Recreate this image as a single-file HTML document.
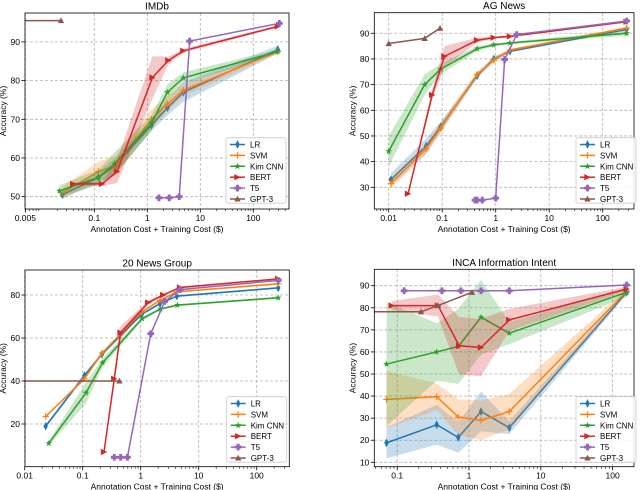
<!DOCTYPE html>
<html><head><meta charset="utf-8">
<style>
html,body{margin:0;padding:0;background:#fff;}
svg{display:block;font-family:"Liberation Sans","DejaVu Sans",sans-serif;}
</style></head>
<body>
<svg id="chart" width="640" height="490" viewBox="0 0 640 490" xmlns="http://www.w3.org/2000/svg"></svg>
<script>
// ---- data ----
const seriesNames = ["LR","SVM","Kim CNN","BERT","T5","GPT-3"];
const panelTitles = ["IMDb","AG News","20 News Group","INCA Information Intent"];

// IMDb
const imdbX_LR = [0.025,0.12,0.25,1.2,2.4,4.8,290];
const imdbY_LR = [50.5,55,58,68.5,73,77,88];
const imdbE_LR = [1,1.5,2,1.5,2,2.5,1];
const imdbX_SVM = [0.025,0.12,0.25,1.2,2.4,4.8,290];
const imdbY_SVM = [51,56.5,58,70,74,77.5,87.5];
const imdbE_SVM = [1.5,2.5,2.5,2.5,2,1.5,0.5];
const imdbX_CNN = [0.022,0.12,0.24,1.2,2.4,4.8,290];
const imdbY_CNN = [51.5,55,58.5,69,77,80.7,87.5];
const imdbE_CNN = [1.5,2,3,2,2,1.5,0.5];
const imdbX_BERT = [0.04,0.14,0.27,1.25,2.5,4.8,290];
const imdbY_BERT = [53.3,53.3,56.5,80.8,85.2,87.7,94];
const imdbE_BERT = [0.5,0.5,3,5.5,1,0.5,0.3];
const imdbX_T5 = [1.66,2.6,4.0,6.3,310];
const imdbY_T5 = [49.7,49.7,50,90.2,94.8];
const imdbX_GPT = [0.001,0.0235];
const imdbY_GPT = [95.5,95.5];

// AG News
const agX_LR = [0.011,0.05,0.093,0.45,0.92,1.85,280];
const agY_LR = [33,46,53.5,73.5,80,83,91.5];
const agE_LR = [2.5,3,2,1,1,0.5,0.5];
const agX_SVM = [0.011,0.05,0.093,0.45,0.92,1.85,280];
const agY_SVM = [31.5,45,53,74,79.5,83.5,92];
const agE_SVM = [2,2,2,1,1,0.5,0.5];
const agX_CNN = [0.01,0.047,0.093,0.45,0.92,1.85,280];
const agY_CNN = [44,70,76,84,85.5,86.2,90];
const agE_CNN = [6,4,2,1,0.5,0.5,1];
const agX_BERT = [0.023,0.065,0.11,0.45,0.92,1.85,280];
const agY_BERT = [27.5,66,81,87.3,88.3,88.8,94.5];
const agE_BERT = [0.5,2,4,1,0.5,0.3,0.3];
const agX_T5 = [0.41,0.45,0.56,1,1.47,2.47,280];
const agY_T5 = [25,25,25,25.8,79.8,89.5,94.8];
const agX_GPT = [0.01,0.047,0.091];
const agY_GPT = [86,88,92];

// 20 News Group
const ngX_LR = [0.023,0.107,0.215,1.04,2.15,4.2,235];
const ngY_LR = [19,42.5,52.5,71,76,79.5,83.3];
const ngE_LR = [1,1,1,0.5,0.5,0.5,0.5];
const ngX_SVM = [0.023,0.107,0.215,1.04,2.15,4.2,235];
const ngY_SVM = [23.5,41,53,72,77.5,81.5,85.2];
const ngE_SVM = [0.5,0.5,0.5,0.5,0.5,0.5,0.5];
const ngX_CNN = [0.026,0.114,0.22,1.06,2.2,4.3,235];
const ngY_CNN = [11,34.5,48.5,69,73.5,75.3,78.7];
const ngE_CNN = [1,5,2,1,0.5,0.5,0.5];
const ngX_BERT = [0.233,0.35,0.45,1.35,2.45,4.77,235];
const ngY_BERT = [7,41,62.5,76.5,80,83.5,87.5];
const ngE_BERT = [0.5,3,3,1,0.5,0.5,0.3];
const ngX_T5 = [0.35,0.45,0.59,1.49,2.6,4.77,235];
const ngY_T5 = [4.5,4.5,4.5,62,77,82.5,86.8];
const ngX_GPT = [0.001,0.43];
const ngY_GPT = [40,40];

// INCA
const incaX_LR = [0.071,0.355,0.71,1.47,3.64,157];
const incaY_LR = [18.8,27,21.3,33,25.7,87];
const incaE_LR = [7,9,7,9,3,1];
const incaX_SVM = [0.071,0.355,0.71,1.47,3.64,157];
const incaY_SVM = [38.5,39.7,30.5,29,33,87.5];
const incaE_SVM = [13,6,8,9,8,1];
const incaX_CNN = [0.071,0.355,0.71,1.47,3.64,157];
const incaY_CNN = [54.5,60,62.5,75.7,68.5,87];
const incaE_CNN = [28,13,17,17,5,2];
const incaX_BERT = [0.084,0.37,0.73,1.47,3.64,157];
const incaY_BERT = [81,81,62.8,62,74.5,88.5];
const incaE_BERT = [2,5,13,13,5,1];
const incaX_T5 = [0.125,0.42,0.77,1.47,3.64,157];
const incaY_T5 = [87.7,87.7,87.7,87.7,87.7,90.3];
const incaX_GPT = [0.01,0.215,0.37,1.1];
const incaY_GPT = [78.2,78.2,81,87];

// ticks
const xTicks = [[0.005,0.1,1,10,100],[0.01,0.1,1,10,100],[0.01,0.1,1,10,100],[0.1,1,10,100]];
const xTickLabels = [["0.005","0.1","1","10","100"],["0.01","0.1","1","10","100"],["0.01","0.1","1","10","100"],["0.1","1","10","100"]];
const yTicks = [[50,60,70,80,90],[30,40,50,60,70,80,90],[20,40,60,80],[10,20,30,40,50,60,70,80,90]];

// ---- layout ----
const colors = ["#1f77b4","#ff7f0e","#2ca02c","#d62728","#9467bd","#8c564b"];
const markers = ["d","+","*",">","P","^"];
const panels = [
 {l:25,t:13,r:289,b:209,x1:147.3,dec:53,y0:50,y0p:196.7,k:3.87,leg:[226,137.7]},
 {l:374.3,t:12.7,r:634,b:209,x1:495.7,dec:53.5,y0:30,y0p:187.3,k:2.567,leg:[576,137.7]},
 {l:25,t:270,r:289.3,b:466.7,x1:140.7,dec:58,y0:20,y0p:424,k:2.15,leg:[226.7,396.7]},
 {l:374.3,t:269.3,r:634,b:466.7,x1:469,dec:71.8,y0:10,y0p:462.3,k:2.2075,leg:[576,396.7]}
];
const data = [
 [[imdbX_LR,imdbY_LR,imdbE_LR],[imdbX_SVM,imdbY_SVM,imdbE_SVM],[imdbX_CNN,imdbY_CNN,imdbE_CNN],[imdbX_BERT,imdbY_BERT,imdbE_BERT],[imdbX_T5,imdbY_T5,null],[imdbX_GPT,imdbY_GPT,null]],
 [[agX_LR,agY_LR,agE_LR],[agX_SVM,agY_SVM,agE_SVM],[agX_CNN,agY_CNN,agE_CNN],[agX_BERT,agY_BERT,agE_BERT],[agX_T5,agY_T5,null],[agX_GPT,agY_GPT,null]],
 [[ngX_LR,ngY_LR,ngE_LR],[ngX_SVM,ngY_SVM,ngE_SVM],[ngX_CNN,ngY_CNN,ngE_CNN],[ngX_BERT,ngY_BERT,ngE_BERT],[ngX_T5,ngY_T5,null],[ngX_GPT,ngY_GPT,null]],
 [[incaX_LR,incaY_LR,incaE_LR],[incaX_SVM,incaY_SVM,incaE_SVM],[incaX_CNN,incaY_CNN,incaE_CNN],[incaX_BERT,incaY_BERT,incaE_BERT],[incaX_T5,incaY_T5,null],[incaX_GPT,incaY_GPT,null]]
];

const NS="http://www.w3.org/2000/svg";
const svg=document.getElementById('chart');
function mk(tag,attrs,parent){const e=document.createElementNS(NS,tag);for(const k in attrs)e.setAttribute(k,attrs[k]);(parent||svg).appendChild(e);return e;}

function marker(g,type,x,y,c){
  let e;
  const s=3.2;
  if(type==="d"){e=mk('polygon',{points:`${x},${y-s-0.5} ${x+s*0.6},${y} ${x},${y+s+0.5} ${x-s*0.6},${y}`,fill:c,stroke:c,'stroke-width':0.6},g);}
  else if(type==="+"){e=mk('path',{d:`M${x-s},${y}H${x+s}M${x},${y-s}V${y+s}`,stroke:c,'stroke-width':1.2,fill:'none'},g);}
  else if(type==="*"){let p=[];for(let i=0;i<10;i++){const r=i%2?s*0.45:s*1.1;const a=-Math.PI/2+i*Math.PI/5;p.push((x+r*Math.cos(a)).toFixed(2)+','+(y+r*Math.sin(a)).toFixed(2));}e=mk('polygon',{points:p.join(' '),fill:c},g);}
  else if(type===">"){e=mk('polygon',{points:`${x+s},${y} ${x-s},${y-s} ${x-s},${y+s}`,fill:c},g);}
  else if(type==="P"){const a=s*0.45,b=s*1.05;e=mk('path',{d:`M${x-a},${y-b}H${x+a}V${y-a}H${x+b}V${y+a}H${x+a}V${y+b}H${x-a}V${y+a}H${x-b}V${y-a}H${x-a}Z`,fill:c},g);}
  else if(type==="^"){e=mk('polygon',{points:`${x},${y-s} ${x+s},${y+s*0.8} ${x-s},${y+s*0.8}`,fill:c},g);}
  return e;
}

panels.forEach((P,pi)=>{
  const X=v=>P.x1+P.dec*Math.log10(v);
  const Y=v=>P.y0p-(v-P.y0)*P.k;
  const g=mk('g',{});
  
  
  const cid='clip'+pi;
  const cp=mk('clipPath',{id:cid},g);mk('rect',{x:P.l,y:P.t,width:P.r-P.l,height:P.b-P.t},cp);
  const grid=mk('g',{},g);
  
  
  xTicks[pi].forEach(v=>{const x=X(v);if(x>=P.l-0.5&&x<=P.r)mk('line',{x1:x,x2:x,y1:P.t,y2:P.b,stroke:'#b0b0b0','stroke-width':0.8,'stroke-dasharray':'3,2'},grid);});
  yTicks[pi].forEach(v=>{const y=Y(v);mk('line',{x1:P.l,x2:P.r,y1:y,y2:y,stroke:'#b0b0b0','stroke-width':0.8,'stroke-dasharray':'3,2'},grid);});
  const sg=mk('g',{'clip-path':`url(#${cid})`},g);
  data[pi].forEach((s,si)=>{
    const [xs,ys,es]=s;const c=colors[si];
    const gs=mk('g',{},sg);
    
    
    if(es){
      let up=xs.map((x,i)=>X(x).toFixed(2)+','+Y(ys[i]+es[i]).toFixed(2));
      let dn=xs.map((x,i)=>X(x).toFixed(2)+','+Y(ys[i]-es[i]).toFixed(2)).reverse();
      const band=mk('polygon',{points:up.concat(dn).join(' '),fill:c,'fill-opacity':0.25,stroke:'none'},gs);
      
      
    }
    const line=mk('polyline',{points:xs.map((x,i)=>X(x).toFixed(2)+','+Y(ys[i]).toFixed(2)).join(' '),fill:'none',stroke:c,'stroke-width':1.5},gs);
    
    
    xs.forEach((x,i)=>{const m=marker(gs,markers[si],X(x),Y(ys[i]),c);
      
      });
  });
  const fr=mk('rect',{x:P.l,y:P.t,width:P.r-P.l,height:P.b-P.t,fill:'none',stroke:'#000','stroke-width':0.8},g);
  
  
  const xa=mk('g',{},g);
  
  
  const lo=Math.floor((P.l-P.x1)/P.dec),hi=Math.ceil((P.r-P.x1)/P.dec);
  for(let d=lo;d<=hi;d++)for(let m=2;m<=9;m++){const x=P.x1+P.dec*(d+Math.log10(m));if(x>P.l&&x<P.r)mk('line',{x1:x,x2:x,y1:P.b,y2:P.b+2,stroke:'#000','stroke-width':0.6},xa);}
  xTicks[pi].forEach((v,i)=>{const x=X(v);mk('line',{x1:x,x2:x,y1:P.b,y2:P.b+3.5,stroke:'#000','stroke-width':0.8},xa);
    const t=mk('text',{x:x,y:P.b+12,'font-size':8.5,'text-anchor':'middle',fill:'#000'},xa);t.textContent=xTickLabels[pi][i];
    
    });
  const xl=mk('text',{x:(P.l+P.r)/2,y:P.b+23,'font-size':8.5,'text-anchor':'middle'},g);xl.textContent='Annotation Cost + Training Cost ($)';
  
  
  const ya=mk('g',{},g);
  
  
  yTicks[pi].forEach(v=>{const y=Y(v);mk('line',{x1:P.l-3.5,x2:P.l,y1:y,y2:y,stroke:'#000','stroke-width':0.8},ya);
    const t=mk('text',{x:P.l-5,y:y+3,'font-size':8.5,'text-anchor':'end'},ya);t.textContent=v;
    
    });
  const ylx=P.l-19,yly=(P.t+P.b)/2;
  const yl=mk('text',{x:ylx,y:yly,'font-size':8.5,'text-anchor':'middle',transform:`rotate(-90 ${ylx} ${yly})`},g);yl.textContent='Accuracy (%)';
  
  
  const tt=mk('text',{x:(P.l+P.r)/2,y:P.t-3.5,'font-size':10,'text-anchor':'middle'},g);tt.textContent=panelTitles[pi];
  
  
  const lg=mk('g',{},g);
  
  
  const [lx,ly]=P.leg;
  mk('rect',{x:lx,y:ly,width:60,height:65.5,rx:2,fill:'#fff','fill-opacity':0.85,stroke:'#ccc','stroke-width':0.8},lg);
  seriesNames.forEach((n,si)=>{const ey=ly+6.8+si*10.9;const c=colors[si];
    const e=mk('g',{},lg);
    
    
    mk('line',{x1:lx+4,x2:lx+19,y1:ey,y2:ey,stroke:c,'stroke-width':1.5},e);
    marker(e,markers[si],lx+11.5,ey,c);
    const t=mk('text',{x:lx+24,y:ey+3,'font-size':8},e);t.textContent=n;});
});
</script>
</body></html>
